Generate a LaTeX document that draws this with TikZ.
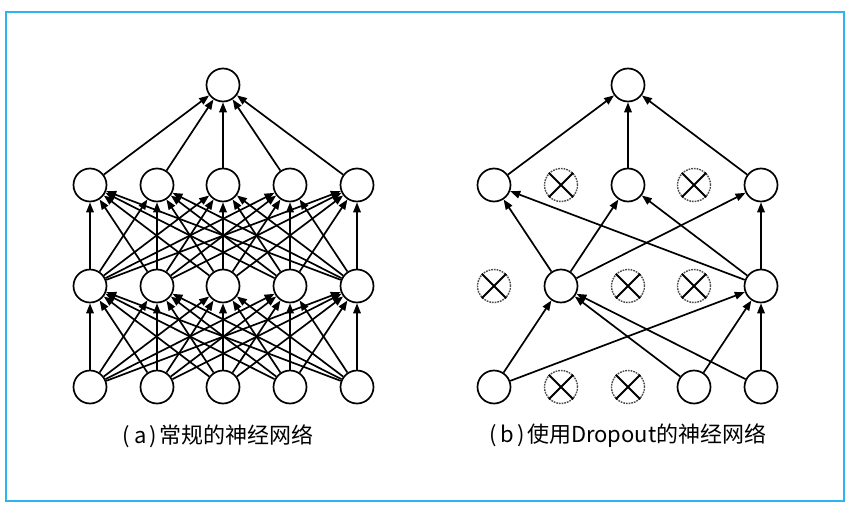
\documentclass[tikz,border=0pt]{standalone}
\usepackage{fontspec}
\setmainfont{Noto Sans CJK SC}
\usetikzlibrary{arrows.meta,positioning}
\definecolor{framecol}{HTML}{2EB4EE}
\tikzset{
  unit/.style    = {draw, circle, line width=1.7pt, minimum size=33pt, inner sep=0pt, fill=white},
  dropped/.style = {unit, densely dotted, draw=black!70, line width=1.4pt},
  xmark/.style   = {line width=1.8pt},
  link/.style    = {line width=1.7pt, -{Triangle[length=10pt,width=7.5pt]}},
  caption/.style = {font=\fontsize{22}{26}\selectfont}
}

\begin{document}
\begin{tikzpicture}[x=1pt,y=-1pt]
\useasboundingbox (0,0) rectangle (851,506);
\draw[framecol, line width=1.5pt] (6,12) rectangle (844,501);

\foreach \i/\x in {1/90,2/157,3/223,4/290,5/357} {
  \node[unit] (a0\i) at (\x,387) {};
  \node[unit] (a1\i) at (\x,286) {};
  \node[unit] (a2\i) at (\x,185) {};
}
\node[unit] (aout) at (223,85) {};
\foreach \i in {1,...,5} {
  \foreach \j in {1,...,5} {
    \draw[link] (a0\i) -- (a1\j);
    \draw[link] (a1\i) -- (a2\j);
  }
  \draw[link] (a2\i) -- (aout);
}
\node[caption] (capa) at (218,436) {(\hspace{4pt}a\hspace{3pt})\hspace{2pt}常规的神经网络};

\foreach \i/\x/\sa/\sb/\sc in {1/494/unit/dropped/unit, 2/561/dropped/unit/dropped,
    3/628/dropped/dropped/unit, 4/694/unit/dropped/dropped, 5/761/unit/unit/unit} {
  \node[\sa] (b0\i) at (\x,387) {};
  \node[\sb] (b1\i) at (\x,286) {};
  \node[\sc] (b2\i) at (\x,185) {};
}
\node[unit] (bout) at (628,85) {};
\foreach \n in {b02,b03,b11,b13,b14,b22,b24}
  \draw[xmark] (\n.45) -- (\n.225) (\n.135) -- (\n.315);
\foreach \s/\t in {b01/b12, b01/b15, b04/b12, b05/b12, b04/b15, b05/b15,
    b12/b21, b12/b23, b12/b25, b15/b21, b15/b23, b15/b25,
    b21/bout, b23/bout, b25/bout}
  \draw[link] (\s) -- (\t);
\node[caption] (capb) at (628,436) {(\hspace{4pt}b\hspace{3pt})\hspace{2pt}使用Dropout的神经网络};
\end{tikzpicture}
\end{document}
